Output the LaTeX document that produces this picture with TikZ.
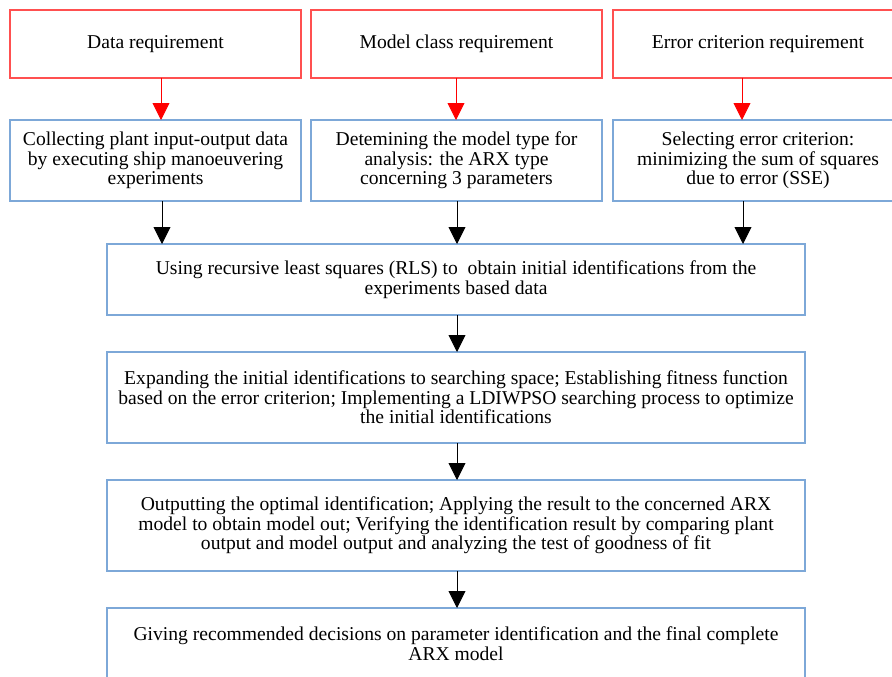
\documentclass[tikz,border=0pt]{standalone}
\usepackage{fontspec}
\setmainfont{Liberation Serif}
\usetikzlibrary{arrows.meta}

\definecolor{reqred}{RGB}{255,80,80}
\definecolor{stepblue}{RGB}{125,168,216}

\tikzset{
  boxtext/.style={align=center, font=\fontsize{19.6}{19.6}\selectfont},
  reqbox/.style={boxtext, draw=reqred, line width=1.3pt, inner sep=0pt, outer sep=0pt},
  stepbox/.style={boxtext, draw=stepblue, line width=1.3pt, inner sep=0pt, outer sep=0pt},
  redflow/.style={draw=red, line width=0.9pt, -{Triangle[length=17pt,width=17pt]}, fill=red},
  blackflow/.style={draw=black, line width=0.9pt, -{Triangle[length=17pt,width=17pt]}}
}

\begin{document}
\begin{tikzpicture}[x=1pt, y=-1pt]
  \useasboundingbox (0,0) rectangle (892,677);
  \begin{scope}
    \clip (0,0) rectangle (892,677);

    % requirement boxes
    \node[reqbox, minimum width=291pt, minimum height=68pt] (r1) at (155.5,44) {Data requirement};
    \node[reqbox, minimum width=291pt, minimum height=68pt] (r2) at (456.5,44) {Model class requirement};
    \node[reqbox, minimum width=290pt, minimum height=68pt] (r3) at (758,44) {Error criterion requirement};

    % choices made for each requirement
    \node[stepbox, minimum width=291pt, minimum height=81pt] (b1) at (155.5,160.5)
      {Collecting plant input-output data\\by executing ship manoeuvering\\experiments};
    \node[stepbox, minimum width=291pt, minimum height=81pt] (b2) at (456.5,160.5)
      {Detemining the model type for\\analysis: the ARX type\\concerning 3 parameters};
    \node[stepbox, minimum width=290pt, minimum height=81pt] (b3) at (758,160.5)
      {Selecting error criterion:\\minimizing the sum of squares\\due to error (SSE)};

    % identification procedure
    \node[stepbox, minimum width=698pt, minimum height=71pt] (sa) at (456,279.5)
      {Using recursive least squares (RLS) to~ obtain initial identifications from the\\experiments based data};
    \node[stepbox, minimum width=698pt, minimum height=91pt] (sb) at (456,397.5)
      {Expanding the initial identifications to searching space; Establishing fitness function\\based on the error criterion; Implementing a LDIWPSO searching process to optimize\\the initial identifications};
    \node[stepbox, minimum width=698pt, minimum height=91pt] (sc) at (456,525.5)
      {Outputting the optimal identification; Applying the result to the concerned ARX\\model to obtain model out; Verifying the identification result by comparing plant\\output and model output and analyzing the test of goodness of fit};
    \node[stepbox, minimum width=698pt, minimum height=71pt] (sd) at (456,643.5)
      {Giving recommended decisions on parameter identification and the final complete\\ARX model};

    % connectors
    \draw[redflow] (r1.south -| 161,0) -- (b1.north -| 161,0);
    \draw[redflow] (r2.south -| 456,0) -- (b2.north -| 456,0);
    \draw[redflow] (r3.south -| 742,0) -- (b3.north -| 742,0);

    \draw[blackflow] (b1.south -| 162,0) -- (sa.north -| 162,0);
    \draw[blackflow] (b2.south -| 457,0) -- (sa.north -| 457,0);
    \draw[blackflow] (b3.south -| 743,0) -- (sa.north -| 743,0);

    \draw[blackflow] (sa.south -| 457,0) -- (sb.north -| 457,0);
    \draw[blackflow] (sb.south -| 457,0) -- (sc.north -| 457,0);
    \draw[blackflow] (sc.south -| 457,0) -- (sd.north -| 457,0);
  \end{scope}
\end{tikzpicture}
\end{document}
